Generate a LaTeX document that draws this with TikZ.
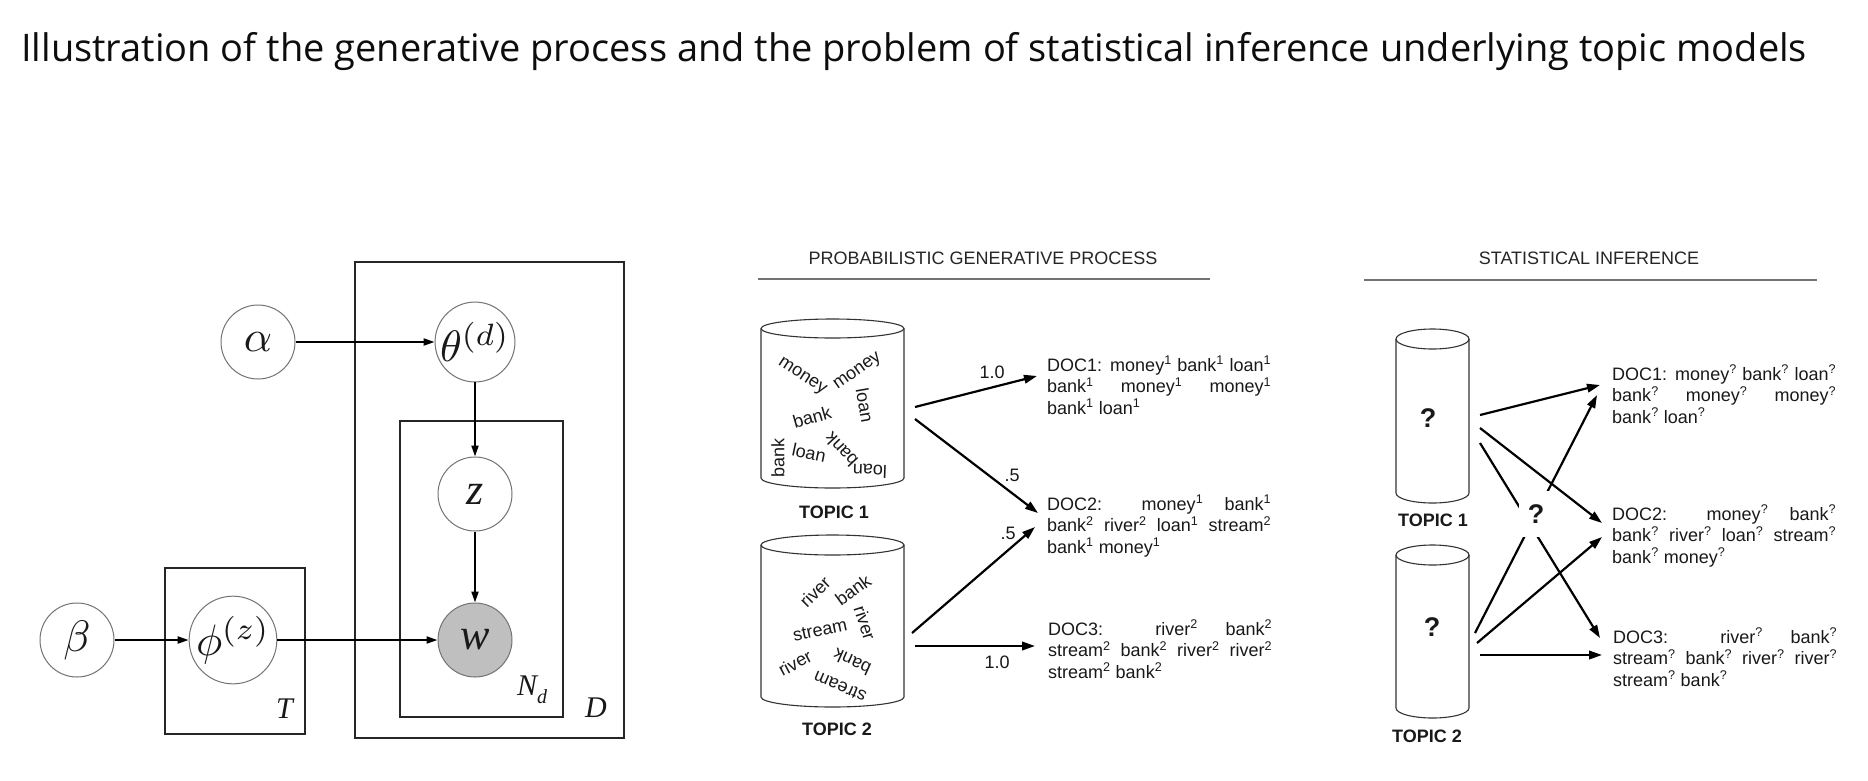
\documentclass[tikz,border=0pt]{standalone}
\usepackage{fontspec}
\setmainfont{Liberation Sans}
\newfontfamily\titlefont{Open Sans}
\newfontfamily\tms{Liberation Serif}
\usetikzlibrary{arrows.meta}
\newlength\dw \setlength\dw{224pt}
\newcommand\su[1]{\textsuperscript{#1}}
\newcommand\jl[1]{\hbox to\dw{#1}}
\newcommand\nl[1]{\hbox{#1}}
\newcommand\gmvar[1]{\scalebox{4.4}{\normalsize$#1$}}
\begin{document}
\begin{tikzpicture}[x=1pt,y=-1pt,
  every node/.style={inner sep=0pt, text=black!90},
  var/.style={circle, draw=black!55, line width=1pt, minimum size=74pt, fill=white, font=\fontsize{44}{48}\selectfont},
  obs/.style={var, fill=black!25},
  plate/.style={draw=black!85, line width=1.4pt},
  platelab/.style={anchor=base west, font=\tms\itshape\fontsize{30}{34}\selectfont},
  garr/.style={-{Triangle[length=11pt,width=7pt]}, line width=2pt},
  hdr/.style={font=\fontsize{18}{20}\selectfont, text=black!85},
  rulel/.style={draw=black!55, line width=1.5pt},
  cyl/.style={draw=black!80, line width=1.1pt},
  cw/.style={font=\fontsize{18}{20}\selectfont},
  tlab/.style={font=\bfseries\fontsize{18}{20}\selectfont},
  doc/.style={anchor=base west, font=\fontsize{18}{21.5}\selectfont},
  parr/.style={-{Triangle[length=13pt,width=8.5pt]}, line width=2.2pt},
  plab/.style={font=\fontsize{18}{20}\selectfont},
  qm/.style={font=\bfseries\fontsize{27}{30}\selectfont}
]
\fill[white] (0,0) rectangle (1868,780);
\useasboundingbox (0,0) rectangle (1868,780);

% title
\node[anchor=base west, font=\titlefont\fontsize{38}{40}\selectfont, text=black!95] (title) at (21,61)
  {Illustration of the generative process and the problem of statistical inference underlying topic models};

% ---------------- graphical model ----------------
\draw[plate] (355,262) rectangle (624,738);
\draw[plate] (400,421) rectangle (563,717);
\draw[plate] (165,568) rectangle (305,734);
\node[platelab] (labT) at (276,718) {T};
\node[platelab] (labN) at (517,695) {N\raisebox{-8pt}{\fontsize{20}{22}\selectfont d}};
\node[platelab] (labD) at (585,717) {D};

\node[var] (alpha) at (258,342) {\gmvar{\alpha}};
\node[var] (theta) at (475,342) {\gmvar{\theta^{(d)}}};
\node[var, font=\tms\itshape\fontsize{44}{48}\selectfont] (z) at (475,494) {z};
\node[obs, font=\tms\itshape\fontsize{44}{48}\selectfont] (w) at (475,640) {w};
\node[var] (beta) at (77,640) {\gmvar{\beta}};
\node[var, minimum size=84pt] (phi) at (233,640) {\gmvar{\phi^{(z)}}};

\draw[garr] (alpha) -- (theta);
\draw[garr] (theta) -- (z);
\draw[garr] (z) -- (w);
\draw[garr] (beta) -- (phi);
\draw[garr] (phi) -- (w);

% ---------------- generative process ----------------
\node[hdr] (hgen) at (983,258) {PROBABILISTIC GENERATIVE PROCESS};
\draw[rulel] (758,279) -- (1210,279);

% topic 1 cylinder
\draw[cyl] (832.5,328.5) ellipse[x radius=71.5, y radius=9.5];
\draw[cyl] (761,328.5) -- (761,478) arc[start angle=180, end angle=0, x radius=71.5, y radius=10] -- (904,328.5);
\node[cw, rotate=-33] (a1) at (802,377) {money};
\node[cw, rotate=35] (a2) at (858,372) {money};
\node[cw, rotate=-80] (a3) at (865,405) {loan};
\node[cw, rotate=16] (a4) at (812,417) {bank};
\node[cw, rotate=90] (a5) at (778,458) {bank};
\node[cw, rotate=-12] (a6) at (809,453) {loan};
\node[cw, rotate=133] (a7) at (841,450) {bank};
\node[cw, rotate=178] (a8) at (870,471) {loan};
\node[tlab] (gt1) at (834,512) {TOPIC 1};

% topic 2 cylinder
\draw[cyl] (832.5,545) ellipse[x radius=71.5, y radius=10];
\draw[cyl] (761,545) -- (761,697) arc[start angle=180, end angle=0, x radius=71.5, y radius=10] -- (904,545);
\node[cw, rotate=45] (b1) at (815,592) {river};
\node[cw, rotate=36] (b2) at (853,590) {bank};
\node[cw, rotate=-72] (b3) at (865,623) {river};
\node[cw, rotate=12] (b4) at (820,630) {stream};
\node[cw, rotate=28] (b5) at (795,663) {river};
\node[cw, rotate=156] (b6) at (852,662) {bank};
\node[cw, rotate=157] (b7) at (840,687) {stream};
\node[tlab] (gt2) at (837,729) {TOPIC 2};

% documents (generative)
\node[doc] (gd1) at (1047,371) {\vtop{%
  \jl{DOC1: money\su{1} bank\su{1} loan\su{1}}%
  \jl{bank\su{1} money\su{1} money\su{1}}%
  \nl{bank\su{1} loan\su{1}}}};
\node[doc] (gd2) at (1047,510) {\vtop{%
  \jl{DOC2: money\su{1} bank\su{1}}%
  \jl{bank\su{2} river\su{2} loan\su{1} stream\su{2}}%
  \nl{bank\su{1} money\su{1}}}};
\node[doc] (gd3) at (1048,635) {\vtop{%
  \jl{DOC3: river\su{2} bank\su{2}}%
  \jl{stream\su{2} bank\su{2} river\su{2} river\su{2}}%
  \nl{stream\su{2} bank\su{2}}}};

\coordinate (g1s) at (915,407);  \coordinate (g1e) at (1037,376);
\coordinate (g2s) at (915,419);  \coordinate (g2e) at (1038,513);
\coordinate (g3s) at (912,633);  \coordinate (g3e) at (1035,527);
\coordinate (g4s) at (915,646);  \coordinate (g4e) at (1035,646);
\draw[parr] (g1s) -- (g1e);
\draw[parr] (g2s) -- (g2e);
\draw[parr] (g3s) -- (g3e);
\draw[parr] (g4s) -- (g4e);
\node[plab] (p1) at (992,372) {1.0};
\node[plab] (p2) at (1012,475) {.5};
\node[plab] (p3) at (1008,533) {.5};
\node[plab] (p4) at (997,662) {1.0};

% ---------------- statistical inference ----------------
\node[hdr] (hinf) at (1589,258) {STATISTICAL INFERENCE};
\draw[rulel] (1364,280) -- (1817,280);

\draw[cyl] (1432.5,339) ellipse[x radius=36.5, y radius=10];
\draw[cyl] (1396,339) -- (1396,493) arc[start angle=180, end angle=0, x radius=36.5, y radius=10] -- (1469,339);
\node[qm] (q1) at (1428,418) {?};
\node[tlab] (st1) at (1433,520) {TOPIC 1};

\draw[cyl] (1432.5,555) ellipse[x radius=36.5, y radius=10];
\draw[cyl] (1396,555) -- (1396,708) arc[start angle=180, end angle=0, x radius=36.5, y radius=10] -- (1469,555);
\node[qm] (q2) at (1432,627) {?};
\node[tlab] (st2) at (1427,736) {TOPIC 2};

\node[doc] (sd1) at (1612,380) {\vtop{%
  \jl{DOC1: money\su{?} bank\su{?} loan\su{?}}%
  \jl{bank\su{?} money\su{?} money\su{?}}%
  \nl{bank\su{?} loan\su{?}}}};
\node[doc] (sd2) at (1612,520) {\vtop{%
  \jl{DOC2: money\su{?} bank\su{?}}%
  \jl{bank\su{?} river\su{?} loan\su{?} stream\su{?}}%
  \nl{bank\su{?} money\su{?}}}};
\node[doc] (sd3) at (1613,643) {\vtop{%
  \jl{DOC3: river\su{?} bank\su{?}}%
  \jl{stream\su{?} bank\su{?} river\su{?} river\su{?}}%
  \nl{stream\su{?} bank\su{?}}}};

\coordinate (r1s) at (1480,415); \coordinate (r1e) at (1600,385);
\coordinate (r2s) at (1480,428); \coordinate (r2e) at (1602,523);
\coordinate (r3s) at (1480,443); \coordinate (r3e) at (1600,638);
\coordinate (r4s) at (1475,633); \coordinate (r4e) at (1597,395);
\coordinate (r5s) at (1477,643); \coordinate (r5e) at (1602,537);
\coordinate (r6s) at (1480,655); \coordinate (r6e) at (1602,655);
\draw[parr] (r1s) -- (r1e);
\draw[parr] (r2s) -- (r2e);
\draw[parr] (r3s) -- (r3e);
\draw[parr] (r4s) -- (r4e);
\draw[parr] (r5s) -- (r5e);
\draw[parr] (r6s) -- (r6e);
\node[qm, fill=white, minimum width=34pt, minimum height=46pt] (qmid) at (1536,514) {?};
\end{tikzpicture}
\end{document}
